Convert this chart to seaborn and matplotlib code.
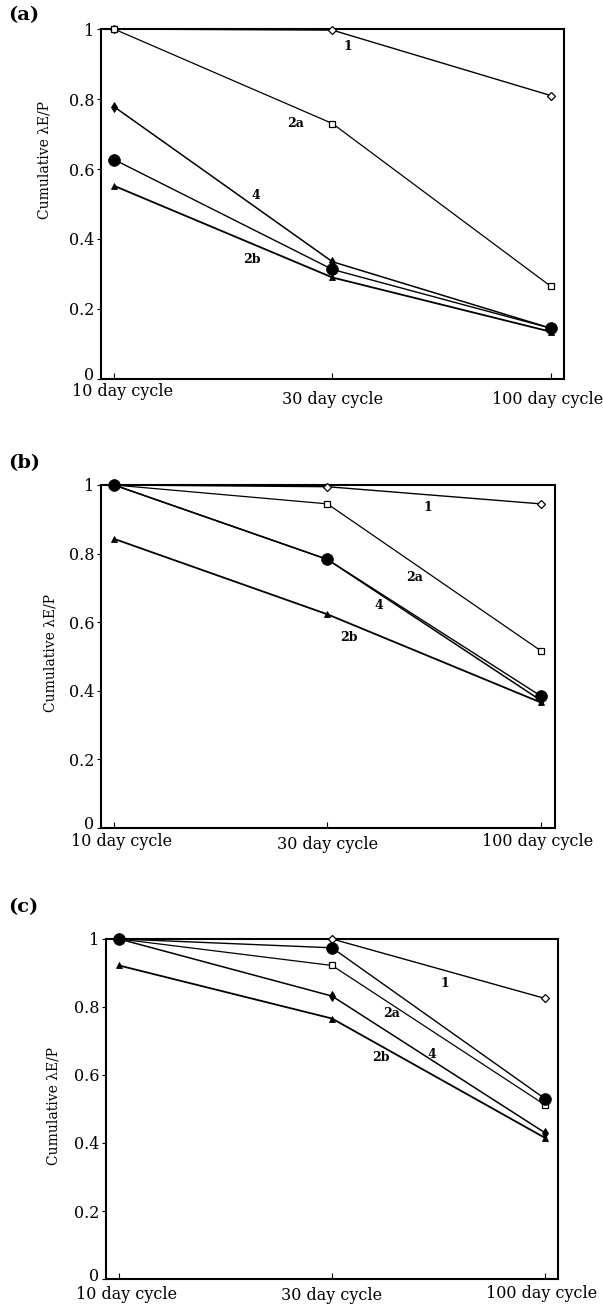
import numpy as np
import pandas as pd
import matplotlib
matplotlib.use("Agg")
import matplotlib.pyplot as plt
import matplotlib.transforms as mtransforms
import seaborn as sns

# -----------------------------------------
# 1. DATA
# -----------------------------------------

cycles = ["10 day cycle", "30 day cycle", "100 day cycle"]

# panel (a)
a_s1 = [1.0, 0.997, 0.81]
a_s2a = [1.0, 0.73, 0.265]
a_s4 = [0.778, 0.335, 0.145]
a_s3 = [0.627, 0.313, 0.145]
a_s2b = [0.552, 0.29, 0.135]

# panel (b)
b_s1 = [1.0, 0.995, 0.945]
b_s2a = [1.0, 0.945, 0.517]
b_s4 = [1.0, 0.783, 0.372]
b_s3 = [1.0, 0.783, 0.385]
b_s2b = [0.843, 0.623, 0.366]

# panel (c)
c_s1 = [1.0, 1.0, 0.825]
c_s2a = [1.0, 0.922, 0.512]
c_s4 = [1.0, 0.832, 0.43]
c_s3 = [1.0, 0.974, 0.53]
c_s2b = [0.922, 0.766, 0.415]

series_names = ["1", "2a", "4", "3", "2b"]
y_ticks = [0, 0.2, 0.4, 0.6, 0.8, 1]
y_tick_labels = ["0", "0.2", "0.4", "0.6", "0.8", "1"]

# curve labels (text positions in data units)
a_notes = {"1": (1.07, 0.95), "2a": (0.83, 0.73), "4": (0.65, 0.525), "2b": (0.63, 0.34)}
b_notes = {"1": (1.47, 0.935), "2a": (1.41, 0.73), "4": (1.24, 0.65), "2b": (1.10, 0.555)}
c_notes = {"1": (1.53, 0.87), "2a": (1.28, 0.78), "4": (1.47, 0.66), "2b": (1.23, 0.65)}

# -----------------------------------------
# 2. STYLE
# -----------------------------------------

sns.set_style("ticks")
plt.rcParams["font.family"] = ["DejaVu Serif"]
plt.rcParams["text.color"] = "black"
plt.rcParams["axes.labelcolor"] = "black"
plt.rcParams["xtick.color"] = "black"
plt.rcParams["ytick.color"] = "black"

marker_style = {
    "1": dict(marker="D", markersize=4.0, markerfacecolor="white", markeredgewidth=0.9, lw=1.0),
    "2a": dict(marker="s", markersize=4.2, markerfacecolor="white", markeredgewidth=0.9, lw=0.9),
    "4": dict(marker="d", markersize=5.0, markerfacecolor="black", markeredgewidth=0.6, lw=1.1),
    "3": dict(marker="o", markersize=8.5, markerfacecolor="black", markeredgewidth=0.5, lw=1.0),
    "2b": dict(marker="^", markersize=4.0, markerfacecolor="black", markeredgewidth=0.6, lw=1.3),
}

fig = plt.figure(figsize=(6.03, 13.09), dpi=100)

panels = [
    dict(tag="(a)", rect=[0.1675, 0.7105, 0.7675, 0.2673], xlim=(-0.06, 2.06),
         data=[a_s1, a_s2a, a_s4, a_s3, a_s2b], notes=a_notes,
         ylab=(-0.106, 0.626), pad=3.0, dy=[0, 6.0, 6.0], tag_y=15),
    dict(tag="(b)", rect=[0.1675, 0.3675, 0.7525, 0.262], xlim=(-0.061, 2.066),
         data=[b_s1, b_s2a, b_s4, b_s3, b_s2b], notes=b_notes,
         ylab=(-0.095, 0.51), pad=3.8, dy=[0, 2.2, 0], tag_y=463),
    dict(tag="(c)", rect=[0.1758, 0.0229, 0.7496, 0.2598], xlim=(-0.061, 2.061),
         data=[c_s1, c_s2a, c_s4, c_s3, c_s2b], notes=c_notes,
         ylab=(-0.10, 0.51), pad=5.0, dy=[0, 0.7, -0.7], tag_y=907),
]

dx_px = [8, 0, -3]
x_pos = np.arange(len(cycles))

# -----------------------------------------
# 3. DRAW PANELS
# -----------------------------------------

for p in panels:
    ax = fig.add_axes(p["rect"])
    df = pd.DataFrame({"cycle": np.tile(x_pos, len(series_names)),
                       "value": np.concatenate(p["data"]),
                       "series": np.repeat(series_names, len(cycles))})

    for name in series_names:
        sub = df[df["series"] == name]
        sns.lineplot(data=sub, x="cycle", y="value", ax=ax, color="black",
                     markeredgecolor="black", clip_on=False, zorder=3,
                     **marker_style[name])

    ax.set_xlim(*p["xlim"])
    ax.set_ylim(0, 1)
    ax.set_xticks(x_pos)
    ax.set_xticklabels(cycles, fontsize=11.5)
    ax.set_yticks(y_ticks)
    ax.set_yticklabels(y_tick_labels, fontsize=11.5)
    ax.tick_params(axis="x", direction="in", length=4, width=0.8, pad=p["pad"])
    ax.tick_params(axis="y", direction="out", length=3, width=0.8, pad=2)

    for lbl, dx, dy in zip(ax.get_xticklabels(), dx_px, p["dy"]):
        off = mtransforms.ScaledTranslation(dx / 100, -dy / 72, fig.dpi_scale_trans)
        lbl.set_transform(lbl.get_transform() + off)

    # the "0" label sits a little above the bottom spine, clear of "10 day cycle"
    zero_lbl = ax.get_yticklabels()[0]
    zero_lbl.set_transform(zero_lbl.get_transform() +
                           mtransforms.ScaledTranslation(0, 5 / 100, fig.dpi_scale_trans))

    for side in ["left", "right", "top", "bottom"]:
        ax.spines[side].set_visible(True)
        ax.spines[side].set_linewidth(1.5)
        ax.spines[side].set_color("black")

    ax.set_xlabel("")
    ax.set_ylabel("Cumulative λE/P", fontsize=10)
    ax.yaxis.set_label_coords(*p["ylab"])

    for txt, (tx, ty) in p["notes"].items():
        ax.text(tx, ty, txt, fontsize=9, fontweight="bold", ha="center", va="center")

    fig.text(8 / 603, 1 - p["tag_y"] / 1309, p["tag"], fontsize=14, fontweight="bold",
             ha="left", va="center")

fig.savefig("out.png", dpi=100)
